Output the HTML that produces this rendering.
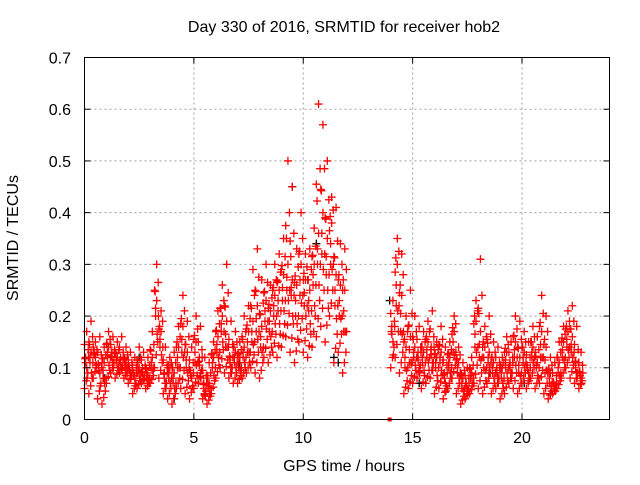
<!DOCTYPE html>
<html><head><meta charset="utf-8"><style>
body{margin:0;background:#fff}
svg text{font-family:"Liberation Sans",sans-serif;font-size:16px;fill:#000}
</style></head><body>
<svg id="chart" width="640" height="480" viewBox="0 0 640 480" xmlns="http://www.w3.org/2000/svg">
<rect width="640" height="480" fill="#fff"/>
<g id="grid"></g>
<g id="marks"></g>
<rect x="84.5" y="57.5" width="525" height="362" fill="none" stroke="#000" stroke-width="1"/>
<g id="ticks"></g>
<text x="344" y="32" text-anchor="middle">Day 330 of 2016, SRMTID for receiver hob2</text>
<text x="344" y="471" text-anchor="middle">GPS time / hours</text>
<text transform="translate(18,238) rotate(-90)" text-anchor="middle">SRMTID / TECUs</text>
</svg>
<script>
const xTicks=[0,5,10,15,20];
const yTicks=[0,0.1,0.2,0.3,0.4,0.5,0.6,0.7];
const yTickLabels=["0","0.1","0.2","0.3","0.4","0.5","0.6","0.7"];
const times=[0,0.2,0.4,0.6,0.8,1.0,1.2,1.4,1.6,1.8,2.0,2.2,2.4,2.6,2.8,3.0,3.2,3.4,3.6,3.8,4.0,4.2,4.4,4.6,4.8,5.0,5.2,5.4,5.6,5.8,6.0,6.2,6.4,6.6,6.8,7.0,7.2,7.4,7.6,7.8,8.0,8.2,8.4,8.6,8.8,9.0,9.2,9.4,9.6,9.8,10.0,10.2,10.4,10.6,10.8,11.0,11.2,11.4,11.6,11.8,
14.0,14.2,14.4,14.6,14.8,15.0,15.2,15.4,15.6,15.8,16.0,16.2,16.4,16.6,16.8,17.0,17.2,17.4,17.6,17.8,18.0,18.2,18.4,18.6,18.8,19.0,19.2,19.4,19.6,19.8,20.0,20.2,20.4,20.6,20.8,21.0,21.2,21.4,21.6,21.8,22.0,22.2,22.4,22.6];
const lowVals=[6,5,8,4,3,7,9,8,9,8,7,5,6,7,6,7,10,8,5,4,3,6,6,5,4,6,7,4,3,5,8,10,9,8,7,7,8,9,10,9,8,12,11,13,12,14,16,13,11,15,13,12,14,16,18,15,20,11,13,9,
10,12,9,5,6,7,8,6,7,8,5,6,4,6,8,5,3,4,5,7,6,5,7,5,6,4,5,7,6,5,7,6,8,6,7,5,4,5,6,8,10,8,7,6];
const midVals=[12,11,13,10,8,12,13,11,12,10,10,9,9,10,8,10,20,14,9,8,7,10,13,10,9,11,12,7,6,10,13,17,14,12,11,10,12,13,15,17,14,19,17,20,21,23,25,24,20,24,22,21,26,30,32,28,30,22,20,17,
18,22,17,10,11,12,13,11,12,14,10,11,9,10,13,9,6,7,8,14,12,10,11,9,10,8,10,11,12,9,11,10,12,10,12,9,7,7,9,12,14,13,11,9];
const highVals=[17,19,15,16,14,17,16,15,16,14,13,12,14,13,12,17,30,21,14,12,13,18,24,19,14,20,18,12,11,15,21,26,30,19,17,15,20,22,29,33,27,30,26,30,32,35,50,45,33,40,32,33,37,61,57,50,43,41,34,33,
23,35,32,20,25,20,18,17,19,21,15,18,14,15,20,14,11,10,12,23,31,18,20,15,14,12,16,15,20,19,17,15,18,16,24,20,12,11,15,18,21,22,18,13];
const altVals=[10,13,12,9,11,14,11,12,10,11,9,8,10,8,9,12,23,17,7,10,9,14,18,13,8,15,9,5,7,12,16,20,19,10,13,12,14,17,19,22,18,23,21,24,25,28,30,27,26,30,27,25,30,36,40,35,38,28,26,25,
15,30,24,14,16,14,10,13,15,11,12,13,7,12,17,11,8,6,9,19,17,14,13,11,8,10,13,9,15,12,13,9,14,11,17,14,9,6,11,15,17,16,9,8];
const blackTimes=[0.9,2.5,4.1,5.5,7.1,9.5,10.6,11.4,11.6,13.95,15.3,16.6,18.5,20.1,21.3];
const blackVals=[0.08,0.12,0.04,0.05,0.11,0.45,0.34,0.12,0.11,0.23,0.07,0.06,0.09,0.07,0.05];
const zeroTimes=[13.95];
const zeroVals=[0];

const X0=84.5,X1=609.5,Y0=419.5,Y1=57.5;
const xs=h=>X0+(h/24)*(X1-X0);
const ys=v=>Y0-(v/0.7)*(Y0-Y1);
const NS="http://www.w3.org/2000/svg";
const grid=document.getElementById('grid'),ticks=document.getElementById('ticks'),marks=document.getElementById('marks');
function mk(tag,attrs,parent){const e=document.createElementNS(NS,tag);for(const k in attrs)e.setAttribute(k,attrs[k]);parent.appendChild(e);return e;}
xTicks.forEach(t=>{const x=xs(t);
 if(t>0){const g=mk('line',{x1:x,y1:Y0,x2:x,y2:Y1,stroke:'#a0a0a0','stroke-dasharray':'2,3'},grid);
 
 }
 const a=mk('line',{x1:x,y1:Y0,x2:x,y2:Y0-6,stroke:'#000'},ticks);
 
 
 const b=mk('line',{x1:x,y1:Y1,x2:x,y2:Y1+6,stroke:'#000'},ticks);
 
 
 const l=mk('text',{x:x,y:443,'text-anchor':'middle'},ticks);l.textContent=String(t);
 
 
});
yTicks.forEach((t,i)=>{const y=ys(t);
 if(i>0&&i<yTicks.length-1){const g=mk('line',{x1:X0,y1:y,x2:X1,y2:y,stroke:'#a0a0a0','stroke-dasharray':'2,3'},grid);
 
 }
 const a=mk('line',{x1:X0,y1:y,x2:X0+6,y2:y,stroke:'#000'},ticks);
 
 
 const b=mk('line',{x1:X1,y1:y,x2:X1-6,y2:y,stroke:'#000'},ticks);
 
 
 const l=mk('text',{x:71,y:y+6,'text-anchor':'end'},ticks);l.textContent=yTickLabels[i];
 
 
});
function plus(h,v,color,name){const x=xs(h),y=ys(v);
 const p=mk('path',{d:`M${x-4},${y}H${x+4}M${x},${y-4}V${y+4}`,stroke:color,'stroke-width':1.3,fill:'none'},marks);
 
 }
blackTimes.forEach((t,i)=>plus(t,blackVals[i],'#000','black-point'));
times.forEach((t,i)=>{
 const lo=lowVals[i]/100,mi=midVals[i]/100,hi=highVals[i]/100,al=altVals[i]/100;
 plus(t,lo,'#f00','red-point');
 plus(t+0.05,mi,'#f00','red-point');
 plus(t+0.1,hi,'#f00','red-point');
 plus(t+0.1,al,'#f00','red-point');
 plus(t+0.15,(lo+mi)/2,'#f00','red-point');
 plus(t+0.05,(mi+al)/2,'#f00','red-point');
 plus(t+0.12,(lo+al)/2,'#f00','red-point');
 plus(t,(mi+hi)/2,'#f00','red-point');
 plus(t+0.17,(al+hi)/2,'#f00','red-point');
 plus(t+0.08,(lo*3+mi)/4,'#f00','red-point');
 plus(t+0.18,mi,'#f00','red-point');
 plus(t+0.03,(al*3+hi)/4,'#f00','red-point');
});
zeroTimes.forEach((t,i)=>{const r=mk('rect',{x:xs(t)-2,y:ys(zeroVals[i])-2,width:4,height:4,fill:'#f00'},marks);
 
 });
</script>
</body></html>
